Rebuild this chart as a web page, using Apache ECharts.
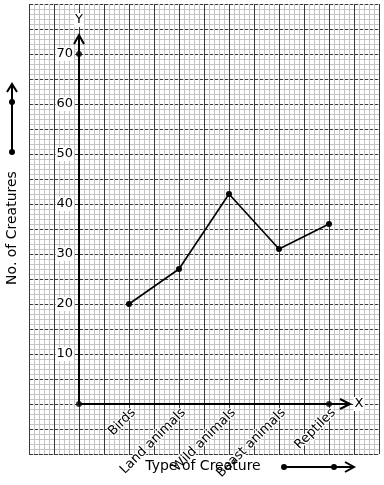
<!DOCTYPE html>
<html><head><meta charset="utf-8">
<script src="https://cdn.jsdelivr.net/npm/echarts@6/dist/echarts.min.js"></script>
<style>html,body{margin:0;padding:0;background:#fff}#c{width:384px;height:485px}</style>
</head><body><div id="c"></div>
<script>
// ---- data ----
const categories = ['Birds', 'Land animals', 'Wild animals', 'Beast animals', 'Reptiles'];
const creatureCounts = [20, 27, 42, 31, 36];
const yTickValues = [10, 20, 30, 40, 50, 60, 70];
const yAxisTitle = 'No. of Creatures';
const xAxisTitle = 'Type of Creature';

const FONT = 'DejaVu Sans';
const chart = echarts.init(document.getElementById('c'), null, {renderer: 'canvas', width: 384, height: 485});

const lineData = categories.map((c, i) => [i + 1, creatureCounts[i]]);
const yMax = yTickValues[yTickValues.length - 1];
const axisDots = [[0, 0], [0, yMax], [categories.length, 0]];

const minorC = '#c4c4c4', majorC = '#3a3a3a';
const hid = {gridIndex: 0, axisLine: {show: false}, axisTick: {show: false}, axisLabel: {show: false}};

chart.setOption({
  animation: false,
  grid: [
    // graph paper
    {left: 29, top: 4, width: 350, height: 450, containLabel: false, outerBoundsMode: 'none'},
    // data area: from the origin to the top-right corner of the paper
    {left: 79, top: 4, width: 300, height: 400, containLabel: false, outerBoundsMode: 'none'}
  ],
  xAxis: [
    Object.assign({type: 'value', min: 0, max: 70, interval: 1, splitLine: {show: true, lineStyle: {color: minorC, width: 1}}}, hid),
    Object.assign({type: 'value', min: 0, max: 14, interval: 1, splitLine: {show: true, lineStyle: {color: majorC, width: 1}}}, hid),
    {type: 'value', gridIndex: 1, position: 'bottom', min: 0, max: 6, interval: 1,
     axisLine: {show: false}, axisTick: {show: false}, splitLine: {show: false},
     axisLabel: {show: true, rotate: 45, margin: 2, verticalAlign: 'top', fontSize: 13, fontFamily: FONT, color: '#000',
       textBorderColor: '#fff', textBorderWidth: 2, showMinLabel: true, showMaxLabel: true,
       formatter: function (v) { return categories[Math.round(v) - 1] || ''; }}}
  ],
  yAxis: [
    Object.assign({type: 'value', min: 0, max: 90, interval: 1, splitLine: {show: true, lineStyle: {color: minorC, width: 1}}}, hid),
    Object.assign({type: 'value', min: 0, max: 18, interval: 1, splitLine: {show: true, lineStyle: {color: majorC, width: 1, type: [4, 1]}}}, hid),
    {type: 'value', gridIndex: 1, position: 'left', min: 0, max: 80, interval: 10,
     axisLine: {show: false}, axisTick: {show: false}, splitLine: {show: false},
     axisLabel: {show: true, margin: 5, fontSize: 13, fontFamily: FONT, color: '#000',
       backgroundColor: '#fff', padding: [1, 1, 0, 1],
       formatter: function (v) { return yTickValues.indexOf(Math.round(v)) >= 0 ? String(Math.round(v)) : ''; }}}
  ],
  series: [
    {type: 'line', xAxisIndex: 2, yAxisIndex: 2, data: lineData, z: 20,
     symbol: 'circle', symbolSize: 6, showSymbol: true,
     lineStyle: {color: '#000', width: 1.6}, itemStyle: {color: '#000'}},
    {type: 'scatter', xAxisIndex: 2, yAxisIndex: 2, data: axisDots, z: 21,
     symbol: 'circle', symbolSize: 6, itemStyle: {color: '#000'}}
  ]
});

const P = (x, y) => chart.convertToPixel({xAxisIndex: 2, yAxisIndex: 2}, [x, y]);
const o = P(0, 0), yTop = P(0, yMax), xEnd = P(categories.length, 0);
const yTip = [o[0], yTop[1] - 19];
const xTip = [xEnd[0] + 21, o[1]];
const stroke = {stroke: '#000', lineWidth: 2, fill: null};
const txt = (x, y, t, extra) => Object.assign({type: 'text', x: x, y: y, z: 30,
  style: Object.assign({text: t, font: '13px "DejaVu Sans"', fill: '#000', align: 'center', verticalAlign: 'middle'}, extra || {})});
const dot = (x, y) => ({type: 'circle', z: 30, shape: {cx: x, cy: y, r: 3}, style: {fill: '#000'}});

chart.setOption({graphic: {elements: [
  {type: 'line', z: 15, shape: {x1: o[0], y1: o[1], x2: yTip[0], y2: yTip[1]}, style: stroke},
  {type: 'polyline', z: 15, shape: {points: [[yTip[0] - 5, yTip[1] + 9], yTip, [yTip[0] + 5, yTip[1] + 9]]}, style: stroke},
  {type: 'line', z: 15, shape: {x1: o[0], y1: o[1], x2: xTip[0], y2: xTip[1]}, style: stroke},
  {type: 'polyline', z: 15, shape: {points: [[xTip[0] - 10, xTip[1] - 5], xTip, [xTip[0] - 10, xTip[1] + 5]]}, style: stroke},
  txt(yTip[0], yTip[1] - 15, 'Y', {backgroundColor: '#fff', padding: [1, 1, 0, 1]}),
  txt(xTip[0] + 9, xTip[1], 'X', {backgroundColor: '#fff', padding: [1, 1, 0, 1]}),
  // left decorative arrow
  {type: 'line', z: 15, shape: {x1: 12, y1: 152, x2: 12, y2: 84}, style: stroke},
  {type: 'polyline', z: 15, shape: {points: [[7, 92], [12, 84], [17, 92]]}, style: stroke},
  dot(12, 152), dot(12, 102),
  // bottom decorative arrow
  {type: 'line', z: 15, shape: {x1: 284, y1: 467, x2: 354, y2: 467}, style: stroke},
  {type: 'polyline', z: 15, shape: {points: [[345, 462], [354, 467], [345, 472]]}, style: stroke},
  dot(284, 467), dot(334, 467),
  // titles
  txt(203, 466, xAxisTitle, {font: '14px "DejaVu Sans"'}),
  Object.assign(txt(12, 228, yAxisTitle, {font: '14px "DejaVu Sans"'}), {rotation: Math.PI / 2})
]}});
</script>
</body></html>
